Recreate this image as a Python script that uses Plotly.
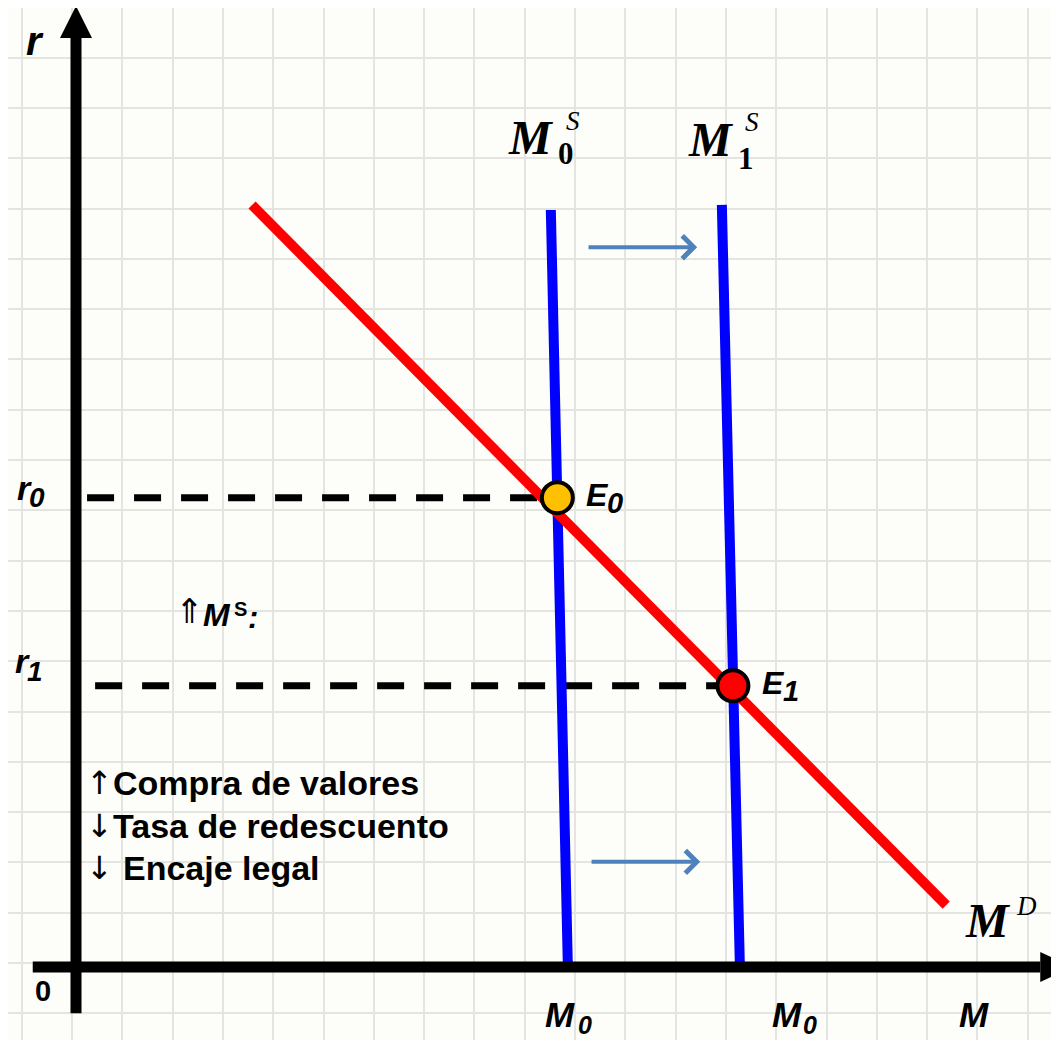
import plotly.graph_objects as go

# ---------------- data (units = one grid cell) ----------------
# money demand curve M^D
md_x = [3.50, 17.30]
md_y = [15.15, 1.23]
# money supply before (M0^S) and after (M1^S)
ms0_x = [9.44, 9.78]
ms0_y = [15.05, -0.05]
ms1_x = [12.84, 13.20]
ms1_y = [15.15, -0.05]
# equilibria
eq_names = ["E", "E"]
eq_subs = ["0", "1"]
eq_x = [9.57, 13.06]
eq_y = [9.33, 5.59]
eq_fill = ["#ffc000", "#ff0000"]
# dashed guides start (x) for r0 and r1
guide_start = [0.22, 0.38]
# shift arrows
shift_x0 = [10.16, 10.22]
shift_x1 = [12.35, 12.41]
shift_y = [14.31, 2.09]
# axes extents
x_axis = [-0.86, 19.17]
y_axis = [-0.92, 18.47]
measure_arrows = ["\u2191", "\u2193", "\u2193"]
measure_texts = ["Compra de valores", "Tasa de redescuento", "Encaje legal"]

# ---------------- layout helpers ----------------
W, H = 1051, 1032          # page body has an 8px margin
OFF = 8
PX = 50.3                  # pixels per grid unit
OX, OY = 76, 967           # origin in screen pixels


def P(px, py):
    return (px - OX) / PX, (OY - py) / PX


xr = [P(OFF, 0)[0], P(OFF + W, 0)[0]]
yr = [P(0, OFF + H)[1], P(0, OFF)[1]]

SANS = "Liberation Sans, Arial, sans-serif"
SERIF = "Liberation Serif, Times New Roman, serif"
SYM = "DejaVu Sans, sans-serif"

fig = go.Figure()

# dashed guides
for i in range(2):
    fig.add_trace(go.Scatter(
        x=[guide_start[i], eq_x[i]], y=[eq_y[i], eq_y[i]], mode="lines",
        line=dict(color="black", width=7, dash="27px,20px"), hoverinfo="skip"))

# money supply lines
for xs, ys in [(ms0_x, ms0_y), (ms1_x, ms1_y)]:
    fig.add_trace(go.Scatter(x=xs, y=ys, mode="lines",
                             line=dict(color="#0000ff", width=10), hoverinfo="skip"))

# money demand
fig.add_trace(go.Scatter(x=md_x, y=md_y, mode="lines",
                         line=dict(color="#ff0000", width=10), hoverinfo="skip"))

# equilibrium points
fig.add_trace(go.Scatter(x=eq_x, y=eq_y, mode="markers",
                         marker=dict(size=31, color=eq_fill, line=dict(color="black", width=4)),
                         hoverinfo="skip"))

# axes (lines + arrowheads)
fig.add_shape(type="line", x0=x_axis[0], x1=x_axis[1], y0=0, y1=0,
              line=dict(color="black", width=11), layer="above")
fig.add_shape(type="line", x0=0, x1=0, y0=y_axis[0], y1=y_axis[1],
              line=dict(color="black", width=11), layer="above")
hx = 15 / PX
tip = 32 / PX
fig.add_shape(type="path", layer="above", fillcolor="black", line=dict(width=0),
              path=f"M{x_axis[1]},{-hx} L{x_axis[1]},{hx} L{x_axis[1] + tip},0 Z")
hy = 16 / PX
fig.add_shape(type="path", layer="above", fillcolor="black", line=dict(width=0),
              path=f"M{-hy},{y_axis[1]} L{hy},{y_axis[1]} L0,{y_axis[1] + tip} Z")

# shift arrows
for i in range(2):
    fig.add_annotation(x=shift_x1[i], y=shift_y[i], ax=shift_x0[i], ay=shift_y[i],
                       xref="x", yref="y", axref="x", ayref="y", text="",
                       showarrow=True, arrowhead=4, arrowsize=1.1, arrowwidth=4,
                       arrowcolor="#4f81bd")


def label(px, py, text, size, family=SANS, xanchor="center"):
    x, y = P(px, py)
    fig.add_annotation(x=x, y=y, text=text, showarrow=False, xanchor=xanchor,
                       yanchor="middle", font=dict(family=family, size=size, color="black"))


def bi(t):
    return f"<b><i>{t}</i></b>"


# axis labels
label(35, 41, bi("r"), 40)
label(43, 991, "<b>0</b>", 29)
label(24, 488, bi("r"), 34)
label(37, 497, bi("0"), 28)
label(22, 661, bi("r"), 34)
label(35, 671, bi("1"), 28)
label(560, 1014, bi("M"), 35)
label(585, 1025, bi("0"), 25)
label(787, 1014, bi("M"), 35)
label(810, 1025, bi("0"), 25)
label(974, 1014, bi("M"), 35)

# equilibrium labels
for i in range(2):
    x, y = eq_x[i] + 27 / PX, eq_y[i] + 3 / PX
    fig.add_annotation(x=x, y=y, text=bi(eq_names[i]), showarrow=False,
                       xanchor="left", yanchor="middle",
                       font=dict(family=SANS, size=32, color="black"))
    fig.add_annotation(x=x + 21 / PX, y=y - 8 / PX, text=bi(eq_subs[i]), showarrow=False,
                       xanchor="left", yanchor="middle",
                       font=dict(family=SANS, size=29, color="black"))

# curve labels (serif)
label(531, 137, "<b><i>M</i></b>", 48, SERIF)
label(566, 153, "<b>0</b>", 31, SERIF)
label(573, 121, "<i>S</i>", 27, SERIF)
label(711, 139, "<b><i>M</i></b>", 48, SERIF)
label(746, 158, "<b>1</b>", 31, SERIF)
label(752, 122, "<i>S</i>", 27, SERIF)
label(988, 920, "<b><i>M</i></b>", 48, SERIF)
label(1026, 906, "<i>D</i>", 27, SERIF)

# policy text
label(189, 611, "\u21d1", 34, SYM)
label(217, 615, bi("M"), 32)
label(240, 609, "<b>S</b>", 20)
label(253, 617, bi(":"), 31)
for k in range(3):
    yy = 783 + 42.5 * k
    label(99, yy, measure_arrows[k], 32, SYM)
    label(111 if k < 2 else 121, yy, f"<b>{measure_texts[k]}</b>", 34, xanchor="left")

fig.update_layout(
    width=W, height=H, margin=dict(l=0, r=0, t=0, b=0),
    paper_bgcolor="#fdfdf9", plot_bgcolor="#fdfdf9", showlegend=False,
    xaxis=dict(range=xr, showgrid=True, gridcolor="#e4e4e0", gridwidth=2,
               tick0=-4 / PX, dtick=1, zeroline=False, showticklabels=False,
               showline=False, ticks="", fixedrange=True),
    yaxis=dict(range=yr, showgrid=True, gridcolor="#e4e4e0", gridwidth=2,
               tick0=4 / PX, dtick=1, zeroline=False, showticklabels=False,
               showline=False, ticks="", fixedrange=True),
)

fig.write_html("out.html")
